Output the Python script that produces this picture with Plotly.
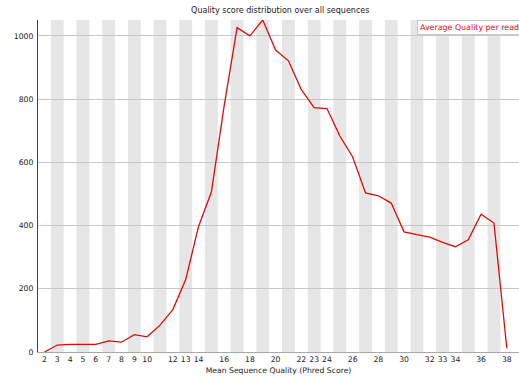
import plotly.graph_objects as go

# Mean Phred score per read (x) and number of reads (y)
quality = list(range(2, 39))
read_counts = [0, 22, 24, 24, 24, 35, 31, 55, 48, 85, 134, 229, 397, 506, 780,
               1026, 1000, 1050, 955, 921, 830, 773, 770, 683, 617, 503, 494,
               471, 380, 371, 363, 347, 333, 355, 436, 408, 12]
tick_labels = ["2", "3", "4", "5", "6", "7", "8", "9", "10", "12", "13", "14",
               "16", "18", "20", "22", "23", "24", "26", "28", "30", "32", "33",
               "34", "36", "38"]
y_ticks = [0, 200, 400, 600, 800, 1000]

FONT = "DejaVu Sans"

fig = go.Figure()

fig.add_trace(go.Scatter(
    x=quality, y=read_counts, mode="lines",
    line=dict(color="rgb(225,10,10)", width=1.3),
    name="Average Quality per read", showlegend=False,
    hoverinfo="skip",
))

# alternating grey bands behind every other quality value
shapes = []
for q in quality:
    if q % 2 == 1:
        shapes.append(dict(type="rect", xref="x", yref="paper",
                           x0=q - 0.5, x1=q + 0.5, y0=0, y1=1,
                           fillcolor="rgb(230,230,230)", line_width=0,
                           layer="below"))

fig.update_layout(
    width=519, height=379,
    margin=dict(l=38, r=0, t=19.5, b=27),
    paper_bgcolor="white", plot_bgcolor="white",
    shapes=shapes,
    title=dict(text="Quality score distribution over all sequences",
               x=0.54, xanchor="center", y=0.972, yanchor="middle",
               font=dict(family=FONT, size=8, color="#222")),
    xaxis=dict(
        range=[1.5, 38.95],
        tickvals=[int(t) for t in tick_labels], ticktext=tick_labels,
        tickfont=dict(family=FONT, size=7.7, color="#222"),
        showgrid=False, zeroline=False,
        showline=True, linecolor="#a8a8a8", linewidth=1,
        ticks="", ticklabelstandoff=0,
        title=dict(text="Mean Sequence Quality (Phred Score)",
                   font=dict(family=FONT, size=7.7, color="#222"),
                   standoff=4),
    ),
    yaxis=dict(
        range=[0, 1050],
        tickvals=y_ticks,
        tickfont=dict(family=FONT, size=7.7, color="#222"),
        showgrid=True, gridcolor="rgb(200,200,200)", gridwidth=1,
        zeroline=False,
        showline=True, linecolor="#404040", linewidth=1.2,
        ticks="", ticklabelstandoff=2,
    ),
    annotations=[dict(
        text="Average Quality per read", xref="paper", yref="paper",
        x=0.788, y=1.0, xanchor="left", yanchor="top",
        showarrow=False, align="left",
        font=dict(family=FONT, size=7.9, color="rgb(225,10,10)"),
        bgcolor="white", bordercolor="rgb(200,200,200)", borderwidth=1,
        borderpad=2,
    )],
)

fig.write_html("out.html")
